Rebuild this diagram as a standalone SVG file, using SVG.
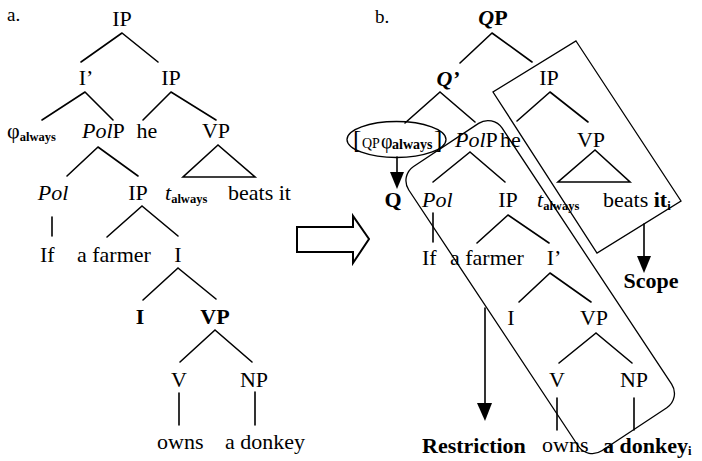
<svg xmlns="http://www.w3.org/2000/svg" width="702" height="461" viewBox="0 0 702 461">
  <defs>
    <style>
      text { font-family: "Liberation Serif", "Times New Roman", serif; font-size: 22px; fill: #000; }
      .c { text-anchor: middle; }
      .b { font-weight: bold; }
      .i { font-style: italic; }
      .lbl { font-size: 19px; }
      .sub { font-size: 12.5px; font-weight: bold; }
      .edge { stroke: #000; stroke-width: 1.6; fill: none; stroke-linecap: round; }
      .box { stroke: #000; stroke-width: 1.3; fill: none; }
      .head { fill: #000; stroke: none; }
    </style>
  </defs>
  <rect width="702" height="461" fill="#fff"/>

  <!-- panel labels -->
  <text class="lbl" x="7" y="21">a.</text>
  <text class="lbl" x="375" y="23">b.</text>

  <!-- tree edges -->
  <g id="connectors">
    <!-- tree a -->
    <path class="edge" d="M122,33 L81,62 M122,33 L158,62"/>
    <path class="edge" d="M85,92 L42,120 M85,92 L113,120"/>
    <path class="edge" d="M171,92 L143,120 M171,92 L216,120"/>
    <path class="edge" d="M98,147 L67,176 M98,147 L138,176"/>
    <path class="edge" d="M218,145 L183,177 L255,177 Z"/>
    <path class="edge" d="M52,217 L52,236"/>
    <path class="edge" d="M142,206 L107,237 M142,206 L178,236"/>
    <path class="edge" d="M178,268 L143,300 M178,268 L216,299"/>
    <path class="edge" d="M215,330 L180,362 M215,330 L252,362"/>
    <path class="edge" d="M179,393 L179,425 M255,392 L255,425"/>

    <!-- derivation arrow -->
    <polygon points="297,227 353,227 353,216 369,239 353,263 353,252 297,252" fill="#fff" stroke="#000" stroke-width="2" stroke-linejoin="miter"/>

    <!-- tree b -->
    <path class="edge" d="M492,33 L460,63 M492,33 L532,62"/>
    <path class="edge" d="M440,92 L405,123 M440,92 L475,122"/>
    <path class="edge" d="M550,92 L517,121 M550,92 L588,122"/>
    <path class="edge" d="M470,152 L433,182 M470,152 L505,182"/>
    <path class="edge" d="M595,150 L558,182 L630,182 Z"/>
    <path class="edge" d="M433,213 L433,242"/>
    <path class="edge" d="M508,215 L477,243 M508,215 L549,243"/>
    <path class="edge" d="M550,273 L519,302 M550,273 L591,302"/>
    <path class="edge" d="M596,333 L559,363 M596,333 L632,363"/>
    <path class="edge" d="M557,398 L557,430 M634,398 L634,430"/>

    <!-- Q arrow -->
    <path class="edge" d="M397,157 L397,175"/>
    <polygon class="head" points="390,172 404,172 397,189"/>
    <!-- Scope arrow -->
    <path class="edge" d="M644,224 L644,258"/>
    <polygon class="head" points="637,256 651,256 644,273"/>
    <!-- Restriction arrow -->
    <path class="edge" d="M485,308 L485,405"/>
    <polygon class="head" points="477,403 492,403 485,421"/>
  </g>

  <!-- enclosing regions -->
  <g id="scope-box">
    <polygon class="box" points="576,41 681,201 597,253 493,92"/>
  </g>
  <g id="restriction-box">
    <rect class="box" x="-170.5" y="-56" width="341" height="112" rx="17" transform="translate(540.2,287.1) rotate(56.5)"/>
  </g>
  <g id="operator-ellipse">
    <ellipse class="box" cx="396.5" cy="139.5" rx="49.5" ry="18"/>
  </g>

  <!-- tree a nodes -->
  <g id="a-ip"><text class="c" x="122" y="26">IP</text></g>
  <g id="a-ibar"><text class="c" x="86" y="85">I’</text></g>
  <g id="a-ip2"><text class="c" x="171" y="85">IP</text></g>
  <g id="a-phi"><text x="7" y="138">φ<tspan class="sub" dy="3">always</tspan></text></g>
  <g id="a-polp"><text x="82" y="138"><tspan class="i">Pol</tspan>P</text></g>
  <g id="a-he"><text class="c" x="147" y="138">he</text></g>
  <g id="a-vp"><text class="c" x="216" y="138">VP</text></g>
  <g id="a-pol"><text class="c i" x="53" y="200">Pol</text></g>
  <g id="a-ip3"><text class="c" x="138" y="200">IP</text></g>
  <g id="a-trace"><text x="165" y="200"><tspan class="i">t</tspan><tspan class="sub" dy="3">always</tspan></text></g>
  <g id="a-beats"><text x="228" y="200">beats it</text></g>
  <g id="a-if"><text x="40" y="262">If</text></g>
  <g id="a-farmer"><text x="77" y="262">a farmer</text></g>
  <g id="a-i"><text class="c" x="178" y="262">I</text></g>
  <g id="a-i-head"><text class="c b" x="140" y="324">I</text></g>
  <g id="a-vp2"><text class="c b" x="215" y="324">VP</text></g>
  <g id="a-v"><text class="c" x="179" y="387">V</text></g>
  <g id="a-np"><text class="c" x="254" y="387">NP</text></g>
  <g id="a-owns"><text x="157" y="449">owns</text></g>
  <g id="a-donkey"><text x="225" y="449">a donkey</text></g>

  <!-- tree b nodes -->
  <g id="b-qp"><text class="c b" x="493" y="25"><tspan class="i">Q</tspan>P</text></g>
  <g id="b-qbar"><text class="c b i" x="448" y="86">Q’</text></g>
  <g id="b-ip"><text class="c" x="549" y="85">IP</text></g>
  <g id="b-operator">
    <text x="353" y="148" style="font-size:25px">[</text>
    <text x="362" y="148" style="font-size:14px">QP</text>
    <text x="381" y="148" style="font-size:20px">φ</text>
    <text x="392" y="149" style="font-size:14px;font-weight:bold">always</text>
    <text x="434" y="148" style="font-size:25px">]</text>
  </g>
  <g id="b-polp"><text x="455" y="147"><tspan class="i">Pol</tspan>P</text></g>
  <g id="b-he"><text x="500" y="147">he</text></g>
  <g id="b-vp"><text class="c" x="591" y="147">VP</text></g>
  <g id="b-q"><text class="c b" x="393" y="207">Q</text></g>
  <g id="b-pol"><text class="i" x="422" y="207">Pol</text></g>
  <g id="b-ip2"><text class="c" x="508" y="207">IP</text></g>
  <g id="b-trace"><text x="537" y="207"><tspan class="i">t</tspan><tspan class="sub" dy="3">always</tspan></text></g>
  <g id="b-beats"><text x="603" y="207">beats <tspan class="b">it</tspan><tspan class="sub" dy="3">i</tspan></text></g>
  <g id="b-if"><text x="422" y="265">If</text></g>
  <g id="b-farmer"><text x="450" y="265">a farmer</text></g>
  <g id="b-ibar"><text class="c" x="554" y="265">I’</text></g>
  <g id="b-i"><text class="c" x="511" y="325">I</text></g>
  <g id="b-vp2"><text class="c" x="594" y="325">VP</text></g>
  <g id="b-v"><text class="c" x="557" y="387">V</text></g>
  <g id="b-np"><text class="c" x="634" y="387">NP</text></g>
  <g id="b-owns"><text x="542" y="452">owns</text></g>
  <g id="b-donkey"><text class="b" x="603" y="453">a donkey<tspan class="sub" dy="2">i</tspan></text></g>
  <g id="b-scope"><text class="c b" x="651" y="288">Scope</text></g>
  <g id="b-restriction"><text class="b" x="422" y="453">Restriction</text></g>
</svg>
